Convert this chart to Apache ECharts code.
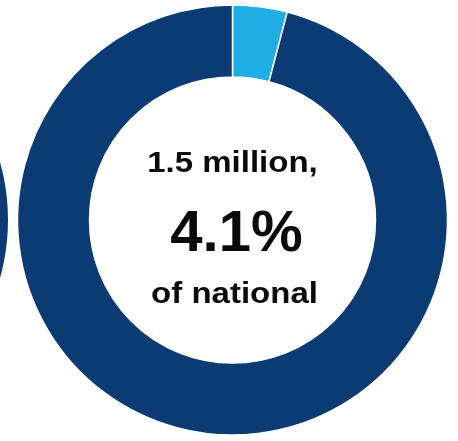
<!DOCTYPE html>
<html>
<head>
<meta charset="utf-8">
<style>
html,body{margin:0;padding:0;background:#fff;}
#chart{width:458px;height:441px;}
</style>
<script src="https://cdn.jsdelivr.net/npm/echarts@6/dist/echarts.min.js"></script>
</head>
<body>
<div id="chart"></div>
<script>
var categories = ['Share of national', 'Rest of national'];
var shareValues = [4.1, 95.9];
var neighborCategories = ['Neighbor'];
var neighborValues = [100];
var centerLines = ['1.5 million,', '4.1%', 'of national'];

var colors = ['#1EAEE3', '#0B3B73'];
var chart = echarts.init(document.getElementById('chart'), null, {renderer: 'canvas'});
var font = '"Liberation Sans", Arial, sans-serif';
chart.setOption({
  backgroundColor: '#ffffff',
  animation: false,
  series: [
    {
      type: 'pie',
      center: [232.5, 220],
      radius: [143, 215],
      startAngle: 90,
      clockwise: true,
      label: {show: false},
      labelLine: {show: false},
      silent: true,
      itemStyle: {borderColor: '#ffffff', borderWidth: 1.5},
      data: categories.map(function (c, i) {
        return {name: c, value: shareValues[i], itemStyle: {color: colors[i]}};
      })
    },
    {
      type: 'pie',
      center: [-207, 220],
      radius: [143, 215],
      label: {show: false},
      labelLine: {show: false},
      silent: true,
      itemStyle: {borderWidth: 0},
      data: neighborCategories.map(function (c, i) {
        return {name: c, value: neighborValues[i], itemStyle: {color: colors[1]}};
      })
    }
  ],
  graphic: [
    {type: 'text', x: 232.5, y: 164, scaleX: 1.1, style: {text: centerLines[0], font: 'bold 30px ' + font, fill: '#0a0a0a', textAlign: 'center', textVerticalAlign: 'middle'}},
    {type: 'text', x: 236.5, y: 235, scaleX: 1.02, style: {text: centerLines[1], font: 'bold 57px ' + font, fill: '#0a0a0a', textAlign: 'center', textVerticalAlign: 'middle'}},
    {type: 'text', x: 234.5, y: 295, scaleX: 1.1, style: {text: centerLines[2], font: 'bold 30px ' + font, fill: '#0a0a0a', textAlign: 'center', textVerticalAlign: 'middle'}}
  ]
});
</script>
</body>
</html>
